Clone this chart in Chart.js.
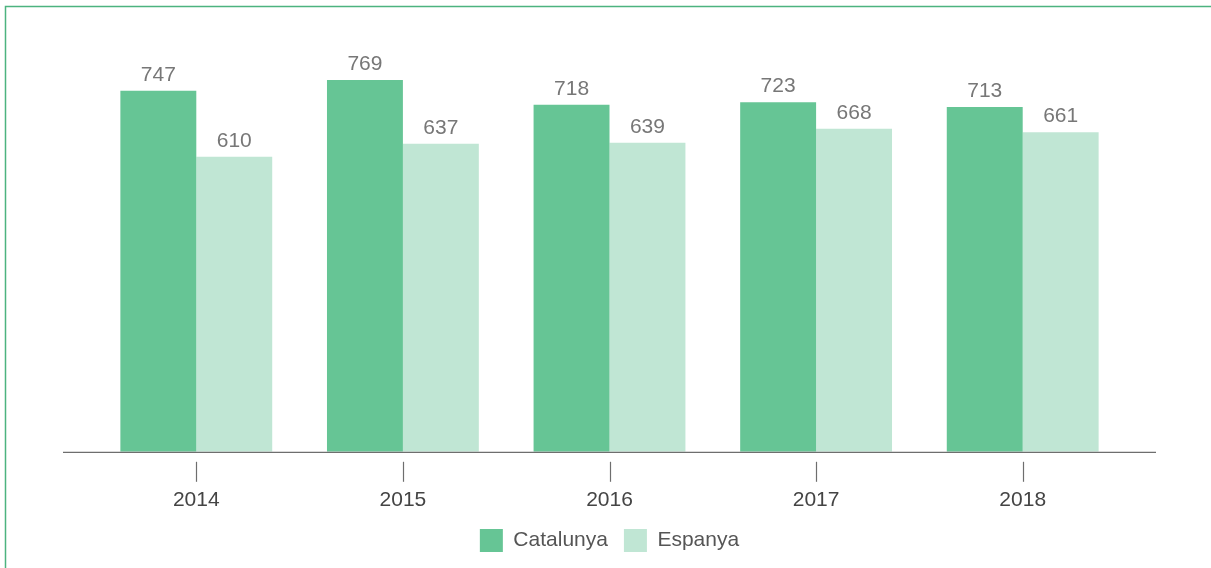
<!DOCTYPE html>
<html>
<head>
<meta charset="utf-8">
<script src="https://cdn.jsdelivr.net/npm/chart.js@4.4.1/dist/chart.umd.min.js"></script>
<style>
  html, body { margin: 0; padding: 0; background: #fff; overflow: hidden; }
  #wrap { width: 1211px; height: 568px; position: relative; }
</style>
</head>
<body>
<div id="wrap"><canvas id="chart"></canvas></div>
<script>
// dades
const years = ['2014', '2015', '2016', '2017', '2018'];
const catalunya = [747, 769, 718, 723, 713];
const espanya = [610, 637, 639, 668, 661];

const FONT = '"Liberation Sans", Arial, Helvetica, sans-serif';
const GREEN_DARK = '#66c595';
const GREEN_LIGHT = '#c0e6d4';

// marc verd (només es veuen els costats superior i esquerre)
const framePlugin = {
    id: 'frame',
    beforeDraw(chart) {
        const ctx = chart.ctx;
        ctx.save();
        ctx.strokeStyle = '#4cb37f';
        ctx.lineWidth = 1.5;
        ctx.beginPath();
        ctx.moveTo(5.5, chart.height + 10);
        ctx.lineTo(5.5, 6.5);
        ctx.lineTo(chart.width + 10, 6.5);
        ctx.stroke();
        ctx.restore();
    }
};

// línia de l'eix i marques sota l'eix
const axisPlugin = {
    id: 'axisLine',
    afterDatasetsDraw(chart) {
        const { ctx, chartArea } = chart;
        const x = chart.scales.x;
        ctx.save();
        ctx.strokeStyle = '#6e6e6e';
        ctx.lineWidth = 1.2;
        ctx.beginPath();
        ctx.moveTo(chartArea.left - 30, chartArea.bottom + 0.5);
        ctx.lineTo(chartArea.right + 30, chartArea.bottom + 0.5);
        ctx.stroke();
        years.forEach((y, i) => {
            const px = Math.round(x.getPixelForValue(i)) + 0.5;
            ctx.beginPath();
            ctx.moveTo(px, chartArea.bottom + 10);
            ctx.lineTo(px, chartArea.bottom + 30);
            ctx.stroke();
        });
        ctx.restore();
    }
};

// valors sobre les barres
const valueLabels = {
    id: 'valueLabels',
    afterDatasetsDraw(chart) {
        const ctx = chart.ctx;
        ctx.save();
        ctx.font = '21px ' + FONT;
        ctx.fillStyle = '#777777';
        ctx.textAlign = 'center';
        ctx.textBaseline = 'alphabetic';
        chart.data.datasets.forEach((ds, di) => {
            chart.getDatasetMeta(di).data.forEach((bar, i) => {
                ctx.fillText(String(ds.data[i]), bar.x, bar.y - 10);
            });
        });
        ctx.restore();
    }
};

new Chart(document.getElementById('chart'), {
    type: 'bar',
    data: {
        labels: years,
        datasets: [
            { label: 'Catalunya', data: catalunya, backgroundColor: GREEN_DARK, borderWidth: 0 },
            { label: 'Espanya', data: espanya, backgroundColor: GREEN_LIGHT, borderWidth: 0 }
        ]
    },
    options: {
        responsive: true,
        maintainAspectRatio: false,
        animation: false,
        categoryPercentage: 0.735,
        barPercentage: 1.0,
        layout: { padding: { left: 93, right: 85, top: 65, bottom: 6 } },
        plugins: {
            legend: {
                position: 'bottom',
                labels: {
                    boxWidth: 23,
                    boxHeight: 23,
                    padding: 16,
                    color: '#555555',
                    font: { family: FONT, size: 21 }
                }
            },
            tooltip: { enabled: false }
        },
        scales: {
            x: {
                // les marques es dibuixen amb el plugin; tickLength només reserva l'espai
                grid: { display: false, drawTicks: true, tickLength: 36 },
                border: { display: false },
                ticks: {
                    color: '#444444',
                    padding: 0,
                    font: { family: FONT, size: 21 }
                }
            },
            y: {
                display: false,
                min: 0,
                max: 800
            }
        }
    },
    plugins: [framePlugin, axisPlugin, valueLabels]
});
</script>
</body>
</html>
